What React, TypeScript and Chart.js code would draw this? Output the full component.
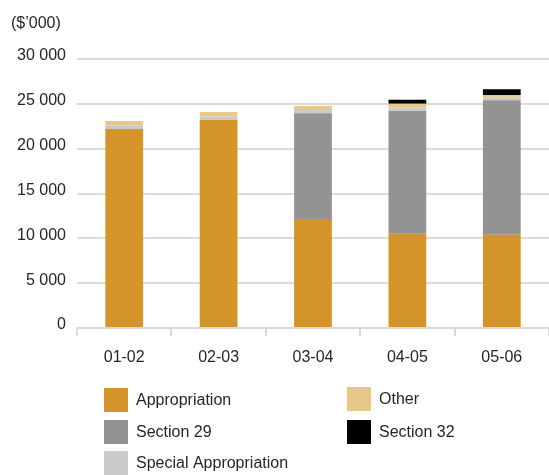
import React, { useEffect, useRef } from "react";
import { Chart, registerables } from "chart.js";

Chart.register(...registerables);

const categories = ["01-02", "02-03", "03-04", "04-05", "05-06"];
const appropriation = [22200, 23200, 12150, 10500, 10400];
const section29 = [0, 0, 11800, 13700, 15000];
const specialAppropriation = [400, 400, 350, 350, 340];
const other = [480, 480, 450, 450, 220];
const section32 = [0, 0, 0, 450, 670];
const yTicks = [0, 5000, 10000, 15000, 20000, 25000, 30000];
const unitLabel = "($\u2019000)";

const FONT = "'Liberation Sans', Arial, Helvetica, sans-serif";
const TEXT = "#262626";

const legendPlugin = {
  id: "customLegend",
  afterDraw(chart: any) {
    const ctx = chart.ctx;
    ctx.save();
    ctx.fillStyle = TEXT;
    ctx.font = `16px ${FONT}`;
    ctx.textAlign = "left";
    ctx.textBaseline = "middle";
    ctx.fillText(unitLabel, 11, 24);
    // legend: [datasetIndex, x, y]
    const items: [number, number, number][] = [
      [0, 104, 388],
      [1, 104, 420],
      [2, 104, 451],
      [3, 347, 387],
      [4, 347, 420],
    ];
    items.forEach(([i, x, y]) => {
      const ds = chart.data.datasets[i];
      ctx.fillStyle = ds.backgroundColor;
      ctx.fillRect(x, y, 24, 24);
      ctx.fillStyle = TEXT;
      ctx.fillText(ds.label, x + 32, y + 13);
    });
    ctx.restore();
  },
};

export default function App() {
  const ref = useRef<HTMLCanvasElement>(null);
  useEffect(() => {
    if (!ref.current) return;
    const chart = new Chart(ref.current, {
      type: "bar",
      data: {
        labels: categories,
        datasets: [
          { label: "Appropriation", data: appropriation, backgroundColor: "#D4942A" },
          { label: "Section 29", data: section29, backgroundColor: "#939393" },
          { label: "Special Appropriation", data: specialAppropriation, backgroundColor: "#CBCBCB" },
          { label: "Other", data: other, backgroundColor: "#E8C888" },
          { label: "Section 32", data: section32, backgroundColor: "#000000" },
        ],
      },
      options: {
        responsive: false,
        animation: false,
        devicePixelRatio: 1,
        layout: { padding: { top: 59, left: 0, right: 0, bottom: 0 } },
        datasets: { bar: { barPercentage: 0.4, categoryPercentage: 1, borderWidth: 0 } },
        plugins: { legend: { display: false }, title: { display: false }, tooltip: { enabled: false } },
        scales: {
          x: {
            stacked: true,
            afterFit: (s: any) => { s.height = 147; },
            grid: { drawOnChartArea: false, drawTicks: true, tickLength: 8, color: "#d9d9d9", lineWidth: 2 },
            border: { display: true, color: "#d9d9d9", width: 2 },
            ticks: { color: TEXT, font: { family: FONT, size: 16 }, padding: 12 },
          },
          y: {
            stacked: true,
            min: 0,
            max: 30000,
            afterFit: (s: any) => { s.width = 77; },
            afterBuildTicks: (s: any) => { s.ticks = yTicks.map((v) => ({ value: v })); },
            grid: { drawTicks: false, color: "#dcdcdc", lineWidth: 2 },
            border: { display: false },
            ticks: {
              color: TEXT,
              font: { family: FONT, size: 16 },
              padding: 11,
              labelOffset: -3,
              callback: (v: any) => String(v).replace(/\B(?=(\d{3})+(?!\d))/g, " "),
            },
          },
        },
      },
      plugins: [legendPlugin],
    });
    return () => chart.destroy();
  }, []);
  return (
    <div style={{ position: "absolute", left: 0, top: 0, width: 549, height: 475, background: "#fff" }}>
      <canvas ref={ref} width={549} height={475} />
    </div>
  );
}
